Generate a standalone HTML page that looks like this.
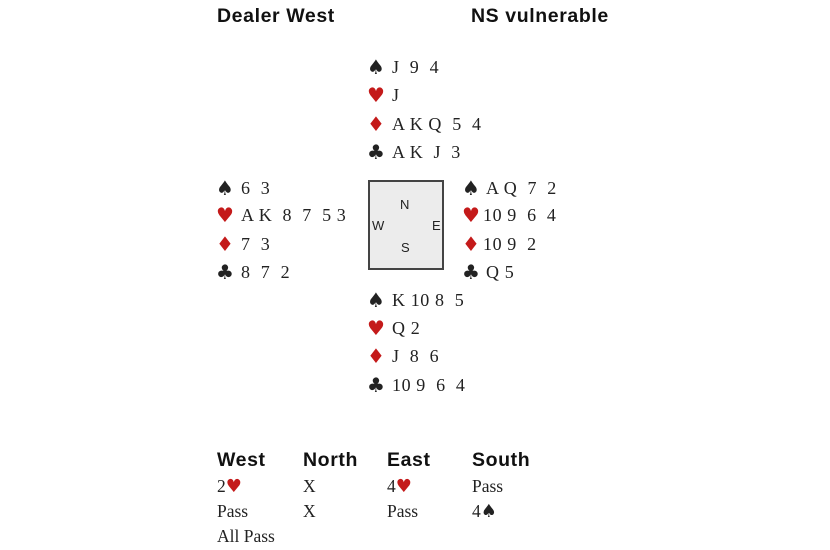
<!DOCTYPE html>
<html><head><meta charset="utf-8"><style>
body{margin:0;width:830px;height:550px;background:#fff;position:relative;overflow:hidden;font-family:"Liberation Serif",serif;color:#222}
.t{position:absolute;line-height:20px;height:20px;white-space:pre;font-size:18px;letter-spacing:0.6px}
.s{position:absolute;line-height:20px;height:20px;font-size:20px;font-family:"DejaVu Sans",sans-serif}
.r{color:#c41a1a}
.h{position:absolute;font-family:"Liberation Sans",sans-serif;font-weight:bold;font-size:19.5px;letter-spacing:0.6px;line-height:22px;color:#111}
.a{position:absolute;font-size:17.5px;line-height:20px;color:#222}
.box{position:absolute;left:368px;top:180px;width:76px;height:90px;background:#ececec;border:2px solid #444;box-sizing:border-box}
.c{position:absolute;font-family:"Liberation Sans",sans-serif;font-size:13px;color:#222}
</style></head><body>
<div class="h" style="left:217px;top:5px">Dealer West</div>
<div class="h" style="left:471px;top:5px">NS vulnerable</div>

<div class="s" style="left:367px;top:57px">♠</div><div class="t" style="left:392px;top:57px">J  9  4</div>
<div class="s r" style="left:367px;top:85px">♥</div><div class="t" style="left:392px;top:85px">J</div>
<div class="s r" style="left:367px;top:114px">♦</div><div class="t" style="left:392px;top:114px">A K Q  5  4</div>
<div class="s" style="left:367px;top:142px">♣</div><div class="t" style="left:392px;top:142px">A K  J  3</div>

<div class="s" style="left:216px;top:178px">♠</div><div class="t" style="left:241px;top:178px">6  3</div>
<div class="s r" style="left:216px;top:205px">♥</div><div class="t" style="left:241px;top:205px">A K  8  7  5 3</div>
<div class="s r" style="left:216px;top:234px">♦</div><div class="t" style="left:241px;top:234px">7  3</div>
<div class="s" style="left:216px;top:262px">♣</div><div class="t" style="left:241px;top:262px">8  7  2</div>

<div class="box"></div>
<div class="c" style="left:400px;top:197px">N</div>
<div class="c" style="left:372px;top:218px">W</div>
<div class="c" style="left:432px;top:218px">E</div>
<div class="c" style="left:401px;top:240px">S</div>

<div class="s" style="left:462px;top:178px">♠</div><div class="t" style="left:486px;top:178px">A Q  7  2</div>
<div class="s r" style="left:462px;top:205px">♥</div><div class="t" style="left:483px;top:205px">10 9  6  4</div>
<div class="s r" style="left:462px;top:234px">♦</div><div class="t" style="left:483px;top:234px">10 9  2</div>
<div class="s" style="left:462px;top:262px">♣</div><div class="t" style="left:486px;top:262px">Q 5</div>

<div class="s" style="left:367px;top:290px">♠</div><div class="t" style="left:392px;top:290px">K 10 8  5</div>
<div class="s r" style="left:367px;top:318px">♥</div><div class="t" style="left:392px;top:318px">Q 2</div>
<div class="s r" style="left:367px;top:346px">♦</div><div class="t" style="left:392px;top:346px">J  8  6</div>
<div class="s" style="left:367px;top:375px">♣</div><div class="t" style="left:392px;top:375px">10 9  6  4</div>

<div class="h" style="left:217px;top:449px">West</div>
<div class="h" style="left:303px;top:449px">North</div>
<div class="h" style="left:387px;top:449px">East</div>
<div class="h" style="left:472px;top:449px">South</div>
<div class="a" style="left:217px;top:476px">2<span class="r" style="font-family:'DejaVu Sans',sans-serif;font-size:18px">♥</span></div>
<div class="a" style="left:303px;top:476px">X</div>
<div class="a" style="left:387px;top:476px">4<span class="r" style="font-family:'DejaVu Sans',sans-serif;font-size:18px">♥</span></div>
<div class="a" style="left:472px;top:476px">Pass</div>
<div class="a" style="left:217px;top:501px">Pass</div>
<div class="a" style="left:303px;top:501px">X</div>
<div class="a" style="left:387px;top:501px">Pass</div>
<div class="a" style="left:472px;top:501px">4<span style="font-family:'DejaVu Sans',sans-serif;font-size:18px">♠</span></div>
<div class="a" style="left:217px;top:526px">All Pass</div>
</body></html>
